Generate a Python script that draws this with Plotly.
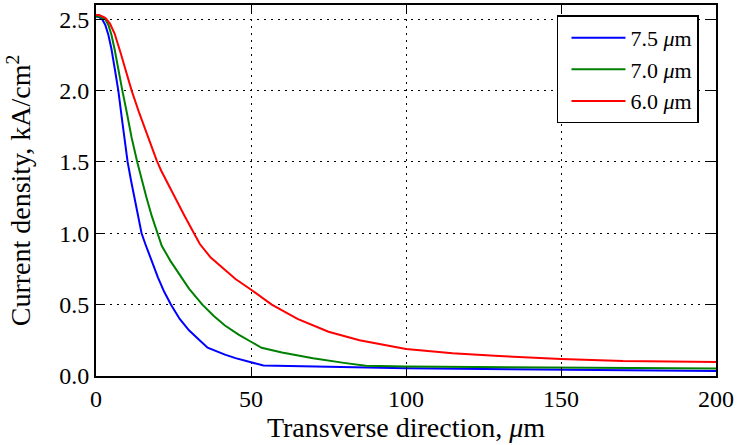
import plotly.graph_objects as go

labels = ["7.5 <i>μ</i>m", "7.0 <i>μ</i>m", "6.0 <i>μ</i>m"]
colors = ["#0000ff", "#008000", "#ff0000"]

blue_x = [0, 1, 2, 3, 4, 5, 6, 7.2, 8.5, 10.2, 11.3, 12.4, 13.5, 14.7, 16, 18, 20, 22, 24.2, 27, 30,
          33.5, 36, 41.6, 45, 49.7, 54, 100, 150, 200]
blue_y = [2.52, 2.515, 2.50, 2.46, 2.39, 2.29, 2.16, 2.00, 1.78, 1.50, 1.37, 1.25, 1.12, 1.00, 0.92,
          0.80, 0.69, 0.59, 0.50, 0.40, 0.32, 0.249, 0.198, 0.15, 0.125, 0.098, 0.073, 0.054, 0.045,
          0.035]

green_x = [0, 1, 2, 3, 4, 5, 6, 7, 8.5, 10, 11.5, 13.3, 14.8, 16.3, 18, 19.9, 21.2, 24, 27, 30, 34.3,
           38, 41.6, 46, 50, 53.4, 60, 70, 80, 87, 100, 150, 200]
green_y = [2.52, 2.52, 2.51, 2.50, 2.46, 2.39, 2.29, 2.17, 2.00, 1.84, 1.67, 1.50, 1.37, 1.25, 1.12,
           1.00, 0.913, 0.807, 0.705, 0.612, 0.50, 0.42, 0.354, 0.29, 0.24, 0.198, 0.165, 0.125,
           0.092, 0.072, 0.066, 0.058, 0.052]

red_x = [0, 1, 2, 3, 4.5, 6, 8, 10.6, 11.5, 14, 16.5, 18, 19.6, 21, 22.5, 25.5, 28.5, 31.6, 33.5, 37,
         41.6, 45, 49.7, 56.7, 65, 75, 85, 100, 115, 130, 150, 170, 200]
red_y = [2.53, 2.53, 2.52, 2.51, 2.47, 2.40, 2.26, 2.066, 2.00, 1.84, 1.69, 1.60, 1.51, 1.44, 1.375,
         1.25, 1.125, 1.00, 0.925, 0.83, 0.743, 0.68, 0.61, 0.50, 0.40, 0.31, 0.25, 0.19, 0.16, 0.14,
         0.12, 0.105, 0.098]

series = [(blue_x, blue_y), (green_x, green_y), (red_x, red_y)]

x_ticks = [0, 50, 100, 150, 200]
y_ticks = [0.0, 0.5, 1.0, 1.5, 2.0, 2.5]

FONT = "Times New Roman"
TICK_FS = 24
TITLE_FS = 28
LEG_FS = 22

fig = go.Figure()
for (xs, ys), name, c in zip(series, labels, colors):
    fig.add_trace(go.Scatter(x=xs, y=ys, mode="lines", name=name,
                             line=dict(color=c, width=2)))

axis_common = dict(
    showline=True, linewidth=2, linecolor="black", mirror="allticks",
    ticks="inside", ticklen=9, tickwidth=1, tickcolor="black",
    showgrid=True, gridcolor="black", gridwidth=1, griddash="2px,5px",
    zeroline=False, tickfont=dict(family=FONT, size=TICK_FS, color="black"),
)

fig.update_xaxes(range=[0, 200], tickvals=x_ticks, ticktext=[str(v) for v in x_ticks],
                 title=dict(text="Transverse direction, <i>μ</i>m",
                            font=dict(family=FONT, size=TITLE_FS, color="black"), standoff=7),
                 **axis_common)
fig.update_yaxes(range=[0, 2.6], tickvals=y_ticks, ticktext=[f"{v:.1f}" for v in y_ticks],
                 title=dict(text="Current density, kA/cm<sup>2</sup>",
                            font=dict(family=FONT, size=TITLE_FS, color="black"), standoff=20),
                 **axis_common)

fig.update_layout(
    width=738, height=445,
    margin=dict(l=96, r=22, t=3, b=69),
    plot_bgcolor="white", paper_bgcolor="white",
    font=dict(family=FONT, size=TICK_FS, color="black"),
    legend=dict(x=0.7435, y=0.972, xanchor="left", yanchor="top",
                bgcolor="white", bordercolor="black", borderwidth=1.5,
                font=dict(family=FONT, size=LEG_FS, color="black"),
                itemwidth=54, indentation=8, tracegroupgap=0),
)

fig.write_html("out.html")
